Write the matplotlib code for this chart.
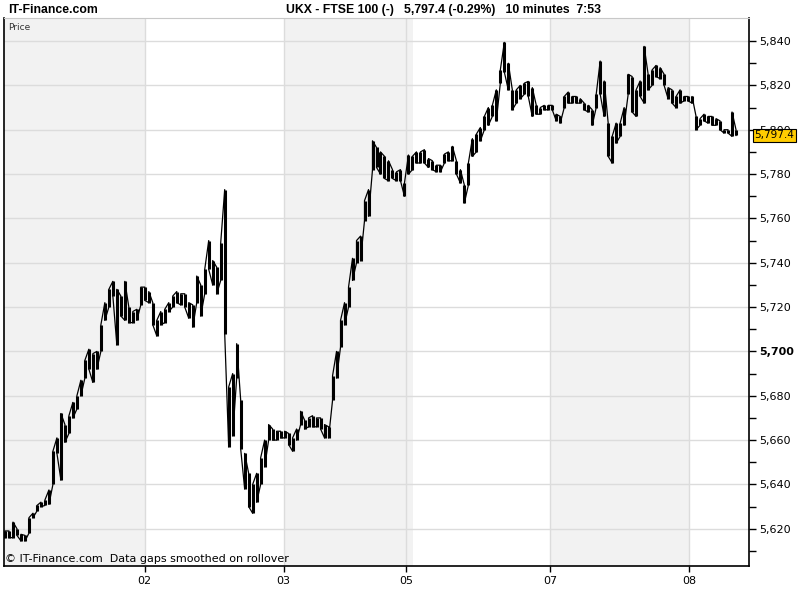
"""UKX - FTSE 100, 10-minute bars, redrawn in the IT-Finance style."""
import numpy as np
import matplotlib
matplotlib.use("Agg")
import matplotlib.pyplot as plt
from matplotlib.ticker import FixedLocator

# 10-minute bar ranges (low / high), one bar every 4 px
lows = [5616, 5616, 5616, 5617, 5614.5, 5614.5, 5618, 5625, 5628, 5630,
        5630.5, 5631, 5640, 5654, 5642, 5659, 5663, 5670, 5674, 5680,
        5688, 5692, 5686, 5692, 5700, 5714, 5720, 5725, 5703, 5716,
        5714, 5713, 5713, 5714, 5721, 5723, 5722, 5712, 5707, 5712,
        5713, 5718, 5720, 5722, 5721, 5720, 5715, 5711, 5722, 5716,
        5726, 5737, 5730, 5726, 5732, 5708, 5657, 5662, 5688, 5656,
        5638, 5630, 5627, 5632, 5640, 5648, 5660, 5660, 5660, 5661,
        5661, 5658, 5655, 5660, 5667, 5665, 5666, 5666, 5666, 5665,
        5661, 5661, 5678, 5688, 5702, 5712, 5720, 5732, 5740, 5741,
        5759, 5761, 5782, 5783, 5780, 5778, 5777, 5778, 5777, 5777,
        5770, 5780, 5782, 5785, 5785, 5785, 5783, 5782, 5781, 5781,
        5785, 5786, 5786, 5780, 5776, 5767, 5775, 5788, 5790, 5795,
        5800, 5802, 5806, 5804, 5821, 5826, 5818, 5809, 5812, 5814,
        5816, 5815, 5806, 5807, 5807, 5809, 5809, 5809, 5804, 5803,
        5810, 5812, 5812, 5812, 5812, 5809, 5808, 5802, 5810, 5816,
        5806, 5788, 5785, 5794, 5797, 5802, 5816, 5808, 5806, 5815,
        5812, 5818, 5820, 5824, 5823, 5820, 5814, 5812, 5810, 5812,
        5813, 5813, 5812, 5800, 5802, 5804, 5803, 5802, 5802, 5800,
        5798.5, 5798.5, 5797, 5797.4]
highs = [5619, 5619, 5623, 5620, 5617.5, 5617, 5625, 5627, 5630.5, 5632,
         5633, 5637.5, 5655, 5661, 5672, 5667, 5671, 5677, 5680, 5687,
         5696, 5701, 5699, 5700, 5712, 5722, 5728, 5731.6, 5728, 5725,
         5731.6, 5720, 5718, 5719, 5729, 5729, 5727, 5722, 5714, 5718,
         5719, 5722, 5725, 5727, 5726, 5726, 5722, 5721, 5734, 5730,
         5737, 5750, 5741, 5738, 5749, 5773, 5684, 5690, 5703.5, 5678,
         5654, 5645, 5640, 5645, 5652, 5660, 5667, 5665, 5664, 5664,
         5664, 5663, 5661, 5665, 5673, 5669, 5670, 5671, 5670, 5670,
         5667, 5666, 5689, 5700, 5714, 5722, 5729, 5742, 5750, 5752,
         5768, 5773, 5795, 5792, 5790, 5788, 5786, 5782, 5781, 5782,
         5776, 5788.6, 5788, 5790, 5790, 5791, 5787, 5786, 5784, 5784,
         5789, 5790, 5792.5, 5786, 5782, 5775, 5785, 5796, 5798, 5801,
         5806, 5810, 5811, 5818, 5827, 5839.4, 5830, 5818, 5818, 5820,
         5821, 5821.8, 5819, 5811, 5810, 5811, 5811, 5811, 5807, 5806,
         5815, 5817, 5815, 5815, 5814, 5812, 5811, 5809, 5816, 5831,
         5822, 5803, 5797, 5803, 5803, 5810, 5825, 5824, 5818, 5822,
         5837.6, 5825, 5827, 5829, 5828, 5825, 5819, 5818, 5815, 5818,
         5815, 5815, 5815, 5806, 5805, 5807, 5806, 5806, 5805, 5804,
         5800, 5800, 5808, 5800]

last_price = 5797.4
day_labels = ["02", "03", "05", "07", "08"]
day_ticks = [35, 69.75, 100.5, 136.5, 171.25]           # bar index of each day start
shaded = [(-0.25, 35), (69.75, 102.25), (136.5, 171.25)]  # alternating day bands
y_ticks = list(range(5620, 5841, 20))

fig = plt.figure(figsize=(8, 6), dpi=100)
ax = fig.add_axes([4 / 800, 34 / 600, 745 / 800, 548 / 600])
ax.set_xlim(-0.25, 186.25)
ax.set_ylim(5603.2, 5850.4)

for a, b in shaded:
    ax.axvspan(a, b, color="#f2f2f2", lw=0, zorder=0)
for v in y_ticks:
    ax.axhline(v, color="#dcdcdc", lw=1, zorder=1)
for t in day_ticks:
    ax.axvline(t, color="#dcdcdc", lw=1, zorder=1)

# bars: thick low-high lines, plus a thin line through the bar middles
idx = np.arange(len(lows))
lo = np.array(lows)
hi = np.array(highs)
ax.vlines(idx, lo, hi, color="black", lw=2.2, zorder=3)
# short zig-zag between neighbours: high of one bar to low of the next
xs = np.repeat(idx, 2)
ys = np.column_stack([np.where(idx % 2 == 0, lo, hi), np.where(idx % 2 == 0, hi, lo)]).ravel()
ax.plot(xs, ys, color="black", lw=0.9, zorder=3)

# axes furniture
ax.yaxis.tick_right()
ax.yaxis.set_major_locator(FixedLocator(y_ticks))
ax.yaxis.set_minor_locator(FixedLocator(list(range(5610, 5850, 20))))
ax.set_yticklabels([f"{v:,}" for v in y_ticks])
for lab, v in zip(ax.get_yticklabels(), y_ticks):
    if v == 5700:
        lab.set_fontweight("bold")
ax.tick_params(axis="y", which="both", direction="out", length=5, width=1,
               labelsize=8, pad=2, colors="black")
ax.set_xticks(day_ticks)
ax.set_xticklabels(day_labels)
ax.tick_params(axis="x", direction="out", length=4, width=1, labelsize=8, pad=3)
for side in ("left", "bottom", "right"):
    ax.spines[side].set_color("black")
    ax.spines[side].set_linewidth(1.2)
ax.spines["top"].set_color("#c8c8c8")
ax.spines["top"].set_linewidth(0.8)

# last price box on the axis
ax.annotate(f"{last_price:,.1f}", xy=(1, last_price), xycoords=("axes fraction", "data"),
            xytext=(4, 0), textcoords="offset points", va="center", ha="left",
            fontsize=7.5, zorder=10,
            bbox=dict(boxstyle="square,pad=0.12", fc="#ffcc00", ec="black", lw=0.8),
            annotation_clip=False)

ax.text(0.006, 0.99, "Price", transform=ax.transAxes, fontsize=6.5,
        va="top", ha="left", color="#333333")
ax.text(0.002, 0.004, "\u00a9 IT-Finance.com  Data gaps smoothed on rollover",
        transform=ax.transAxes, fontsize=8, va="bottom", ha="left")

narrow = ["Liberation Sans Narrow", "Liberation Sans", "DejaVu Sans"]
fig.text(8 / 800, 1 - 10 / 600, "IT-Finance.com", fontsize=8.8, fontweight="bold",
         family=narrow, va="center", ha="left")
fig.text(443 / 800, 1 - 10 / 600,
         "UKX - FTSE 100 (-)   5,797.4 (-0.29%)   10 minutes  7:53",
         fontsize=8.8, fontweight="bold", family=narrow, va="center", ha="center")

fig.savefig("out.png", dpi=100)
